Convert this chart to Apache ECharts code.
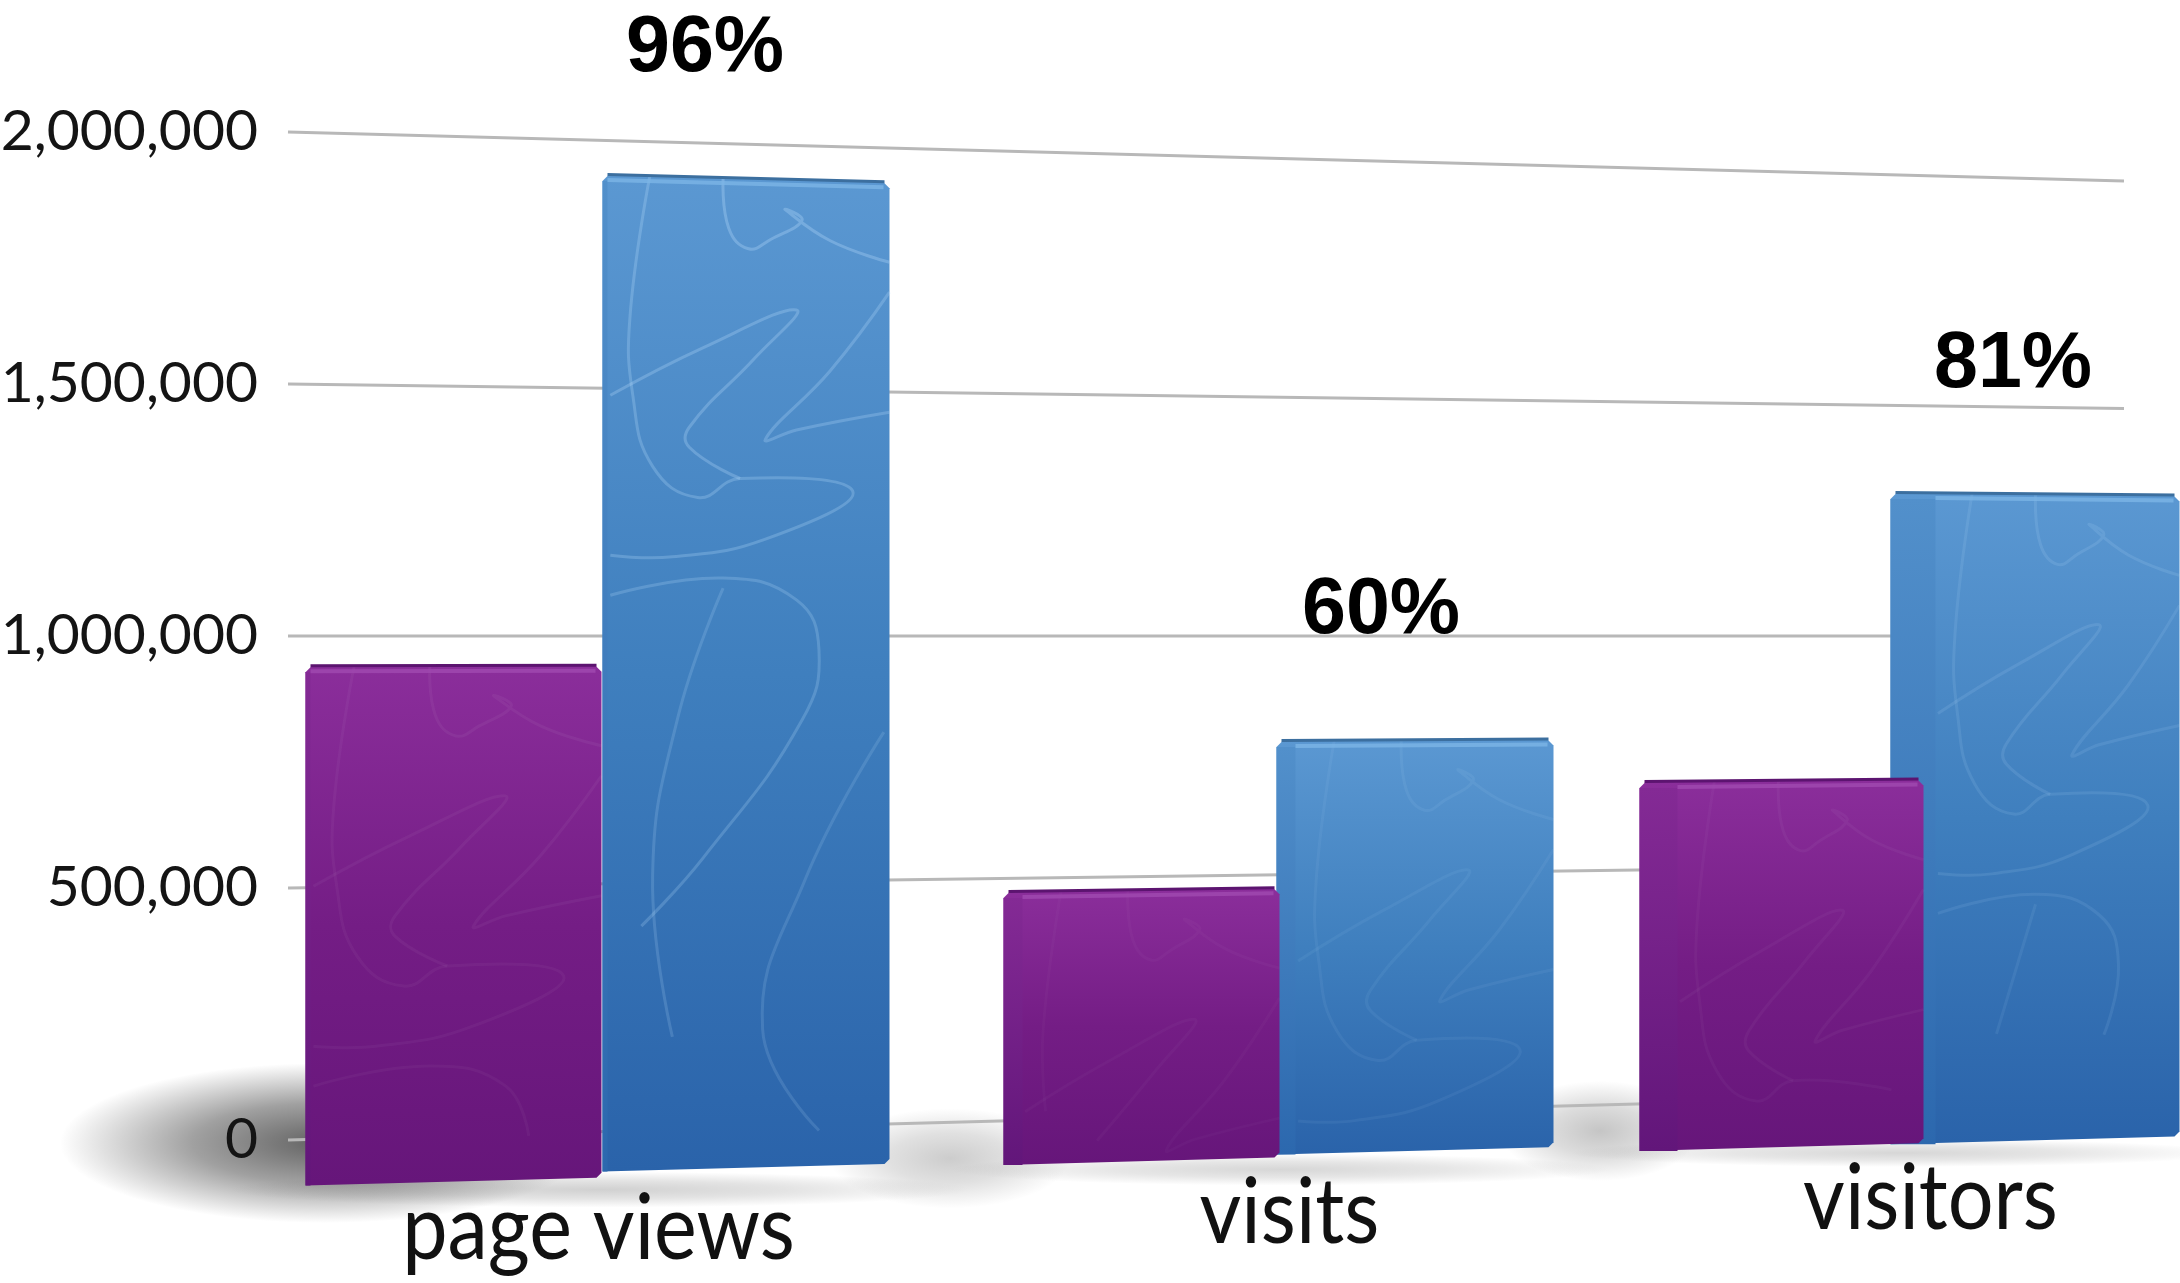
<!DOCTYPE html>
<html>
<head>
<meta charset="utf-8">
<title>page views, visits, visitors</title>
<style>
  html, body { margin: 0; padding: 0; background: #fff; }
  #chart { width: 2180px; height: 1283px; }
</style>
<script src="https://cdn.jsdelivr.net/npm/echarts@6/dist/echarts.min.js"></script>
</head>
<body>
<div id="chart"></div>
<script>
const categories = ['page views', 'visits', 'visitors'];
const purpleValues = [940000, 472000, 688000];
const blueValues = [1930000, 780000, 1310000];
const growthLabels = ['96%', '60%', '81%'];
const yTicks = [0, 500000, 1000000, 1500000, 2000000];

// perspective: the picture leans around the 1,000,000 line, shrinking to the right
const TILT_FROM = 288;
const TILT_K = 0.000053;
const GRID_END = 2124;

function warp(api, x, value) {
  const py = api.coord([0, value])[1];
  const mid = api.coord([0, 1000000])[1];
  return mid + (py - mid) * (1 - TILT_K * (x - TILT_FROM));
}

// px offsets from the band centre: left, right, drop below floor, side bevel, scribble ink
const purpleLayout = [[-296, 0, 46, 5, 0.05], [-259, 17, 44, 19, 0.03], [-284, 0, 47, 38, 0.04]];
const blueLayout = [[1, 288, 40, 5, 0.3], [14, 291, 41, 19, 0.08], [-33, 256, 47, 45, 0.14]];
const percentDx = [-41, -34, -22];
const labelDx = [-3, 27, 7];
const labelDy = [98, 100, 104];
const SCRIBBLE_H = 1000;

// faint scribble on the bar faces, u across the face, v in units of SCRIBBLE_H
const scribbles = [
  [[.15, 0], [.08, .14], [.09, .22], [.16, .29], [.32, .32], [.47, .30], [.87, .31], [.56, .36], [.23, .38], [.01, .38]],
  [[.01, .22], [.34, .17], [.67, .13], [.52, .18], [.29, .25], [.29, .27], [.47, .30]],
  [[.41, 0], [.43, .05], [.5, .07], [.58, .06], [.69, .04], [.63, .03], [.79, .06], [1, .08]],
  [[1, .11], [.79, .19], [.56, .26], [.67, .25], [1, .23]],
  [[.01, .42], [.41, .40], [.67, .42], [.75, .47], [.69, .54], [.34, .68], [.12, .75]],
  [[.41, .41], [.25, .54], [.16, .70], [.23, .86]],
  [[.98, .55], [.7, .7], [.55, .85], [.75, .95]]
];

const purpleStyle = {
  body: ['#8b2e9b', '#741d85', '#66167a'], top: '#a04ab0', edge: '#5c1470', side: ['#842a95', '#62167a'], ink: '255,255,255'
};
const blueStyle = {
  body: ['#5b98d2', '#3f7fbe', '#2a63aa'], top: '#7cb5e6', edge: '#3c6f9f', side: ['#5290cb', '#2c68ae'], ink: '190,225,255'
};

function gradient(stops) {
  return new echarts.graphic.LinearGradient(0, 0, 0, 1,
    stops.map((c, i) => ({ offset: i / (stops.length - 1), color: c })));
}

// round radial blob squashed into an ellipse
function softBlob(cx, cy, rx, ry, grey, alpha) {
  return {
    type: 'circle',
    x: cx,
    y: cy,
    scaleX: rx / ry,
    shape: { cx: 0, cy: 0, r: ry },
    style: {
      fill: new echarts.graphic.RadialGradient(0.5, 0.5, 0.5, [
        { offset: 0, color: `rgba(${grey},${grey},${grey},${alpha})` },
        { offset: 0.5, color: `rgba(${grey},${grey},${grey},${alpha * 0.6})` },
        { offset: 1, color: `rgba(${grey},${grey},${grey},0)` }
      ])
    },
    silent: true
  };
}

function barRenderer(layout, look) {
  return (params, api) => {
    const i = api.value(0);
    const value = api.value(1);
    const cx = api.coord([i, 0])[0];
    const [l, r, drop, bevel, ink] = layout[i];
    const x0 = cx + l;
    const x1 = cx + r;
    const topAt = (x) => warp(api, x, value);
    const botAt = (x) => warp(api, x, 0) + drop;
    const children = [
      {
        type: 'polygon',
        shape: {
          points: [
            [x0, topAt(x0) + 6], [x0 + 6, topAt(x0)], [x1 - 6, topAt(x1)], [x1, topAt(x1) + 6],
            [x1, botAt(x1) - 5], [x1 - 5, botAt(x1)], [x0, botAt(x0)]
          ]
        },
        style: { fill: gradient(look.body) }
      },
      {
        type: 'polygon',
        shape: { points: [[x0, topAt(x0) + 6], [x0 + bevel, topAt(x0) + 6], [x0 + bevel, botAt(x0)], [x0, botAt(x0)]] },
        style: { fill: gradient(look.side) }
      }
    ];
    scribbles.forEach((line) => {
      const points = [];
      for (const [u, v] of line) {
        const x = x0 + bevel + u * (x1 - x0 - bevel);
        const y = topAt(x) + v * SCRIBBLE_H;
        if (y > botAt(x) - 6) break;
        points.push([x, y]);
      }
      if (points.length < 2) return;
      // the marks die away towards the floor
      const midV = line[Math.floor(line.length / 2)][1];
      children.push({
        type: 'polyline',
        shape: { smooth: 0.45, points },
        style: { fill: null, stroke: `rgba(${look.ink},${ink * (1 - 0.6 * midV)})`, lineWidth: 3 }
      });
    });
    // top highlight and thin dark rim
    children.push({
      type: 'polygon',
      shape: { points: [[x0 + bevel, topAt(x0) + 3], [x1 - 6, topAt(x1) + 3], [x1 - 6, topAt(x1) + 7], [x0 + bevel, topAt(x0) + 7]] },
      style: { fill: look.top, opacity: 0.8 }
    });
    children.push({
      type: 'polygon',
      shape: { points: [[x0 + 5, topAt(x0) - 2], [x1 - 5, topAt(x1) - 2], [x1 - 5, topAt(x1) + 1], [x0 + 5, topAt(x0) + 1]] },
      style: { fill: look.edge }
    });
    return { type: 'group', children };
  };
}

const chart = echarts.init(document.getElementById('chart'), null, { renderer: 'canvas' });

chart.setOption({
  animation: false,
  backgroundColor: '#fff',
  grid: { left: 271, right: -74, top: 132, bottom: 143, outerBoundsMode: 'none' },
  xAxis: {
    type: 'category',
    data: categories,
    axisLine: { show: false },
    axisTick: { show: false },
    axisLabel: { show: false },
    splitLine: { show: false }
  },
  yAxis: {
    type: 'value',
    min: 0,
    max: 2000000,
    interval: 500000,
    z: 10,
    axisLine: { show: false },
    axisTick: { show: false },
    splitLine: { show: false },
    axisLabel: {
      margin: 13,
      fontFamily: 'Lato',
      fontSize: 57,
      color: '#141414',
      formatter: (v) => v.toLocaleString('en-US')
    }
  },
  series: [
    // floor shadows
    {
      type: 'custom',
      coordinateSystem: 'cartesian2d',
      z: 1,
      silent: true,
      data: [[0, 0]],
      renderItem: (params, api) => {
        const floorY = (x) => warp(api, x, 0);
        return {
          type: 'group',
          children: [
            softBlob(325, floorY(325) + 4, 265, 80, 70, 0.85),
            softBlob(600, floorY(600) + 58, 370, 18, 70, 0.25),
            softBlob(950, floorY(950) + 36, 120, 50, 110, 0.35),
            softBlob(1280, floorY(1280) + 56, 330, 16, 70, 0.22),
            softBlob(1600, floorY(1600) + 26, 100, 50, 110, 0.4),
            softBlob(1900, floorY(1900) + 56, 330, 14, 70, 0.22)
          ]
        };
      }
    },
    // leaning grid lines
    {
      type: 'custom',
      coordinateSystem: 'cartesian2d',
      z: 2,
      silent: true,
      data: yTicks.map((v) => [0, v]),
      encode: { x: 0, y: 1 },
      renderItem: (params, api) => {
        const v = api.value(1);
        return {
          type: 'polyline',
          shape: { points: [[TILT_FROM, warp(api, TILT_FROM, v)], [GRID_END, warp(api, GRID_END, v)]] },
          style: { fill: null, stroke: '#b8b8b8', lineWidth: 3 }
        };
      }
    },
    {
      name: 'blue',
      type: 'custom',
      coordinateSystem: 'cartesian2d',
      z: 3,
      data: blueValues.map((v, i) => [i, v]),
      encode: { x: 0, y: 1 },
      renderItem: barRenderer(blueLayout, blueStyle)
    },
    {
      name: 'purple',
      type: 'custom',
      coordinateSystem: 'cartesian2d',
      z: 4,
      data: purpleValues.map((v, i) => [i, v]),
      encode: { x: 0, y: 1 },
      renderItem: barRenderer(purpleLayout, purpleStyle)
    },
    // percent labels over the blue bars, category names under the floor
    {
      type: 'custom',
      coordinateSystem: 'cartesian2d',
      z: 5,
      silent: true,
      data: blueValues.map((v, i) => [i, v]),
      encode: { x: 0, y: 1 },
      renderItem: (params, api) => {
        const i = api.value(0);
        const cx = api.coord([i, 0])[0];
        const barX = cx + (blueLayout[i][0] + blueLayout[i][1]) / 2;
        const nameX = cx + labelDx[i];
        return {
          type: 'group',
          children: [
            {
              type: 'text',
              x: barX + percentDx[i],
              y: warp(api, barX, api.value(1)) - 129,
              style: {
                text: growthLabels[i],
                font: 'bold 79px "Liberation Sans"',
                fill: '#000',
                align: 'center',
                verticalAlign: 'middle'
              }
            },
            {
              type: 'text',
              x: nameX,
              y: warp(api, nameX, 0) + labelDy[i],
              scaleY: 1.12,
              style: {
                text: categories[i],
                font: '81px Lato',
                fill: '#111',
                align: 'center',
                verticalAlign: 'middle'
              }
            }
          ]
        };
      }
    }
  ]
});
</script>
</body>
</html>
